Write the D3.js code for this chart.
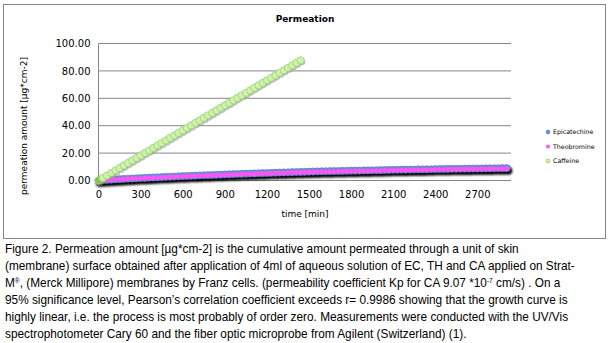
<!DOCTYPE html>
<html>
<head>
<meta charset="utf-8">
<script src="https://cdn.jsdelivr.net/npm/d3@7"></script>
<style>
body { margin: 0; background: #fff; }
svg text { font-family: "DejaVu Sans", sans-serif; }
</style>
</head>
<body>
<div id="chart"></div>
<script>
// sampling grid: every 30 min
var timesLong = d3.range(0, 2911, 30);
var timesShort = d3.range(0, 1441, 30);

var epicatechine = [0.00, 0.25, 0.45, 0.62, 0.80, 0.95, 1.12, 1.28, 1.43, 1.60,
    1.75, 1.90, 2.05, 2.18, 2.33, 2.47, 2.62, 2.75, 2.90, 3.02,
    3.15, 3.30, 3.42, 3.55, 3.66, 3.80, 3.91, 4.03, 4.15, 4.27,
    4.38, 4.50, 4.61, 4.73, 4.84, 4.95, 5.06, 5.17, 5.28, 5.38,
    5.49, 5.58, 5.68, 5.78, 5.87, 5.97, 6.06, 6.15, 6.24, 6.33,
    6.42, 6.55, 6.62, 6.69, 6.75, 6.82, 6.89, 6.95, 7.02, 7.08,
    7.14, 7.20, 7.26, 7.32, 7.38, 7.43, 7.49, 7.54, 7.68, 7.73,
    7.78, 7.83, 7.88, 7.92, 7.97, 8.02, 8.06, 8.11, 8.15, 8.20,
    8.33, 8.37, 8.41, 8.45, 8.49, 8.53, 8.57, 8.61, 8.65, 8.69,
    8.73, 8.77, 8.81, 8.85, 8.89, 8.93, 8.97, 9.02];
var theobromine = [0.00, 0.20, 0.38, 0.55, 0.70, 0.86, 1.00, 1.15, 1.30, 1.44,
    1.58, 1.72, 1.85, 1.99, 2.12, 2.25, 2.38, 2.52, 2.64, 2.77,
    2.89, 3.02, 3.14, 3.26, 3.38, 3.50, 3.61, 3.73, 3.84, 3.95,
    4.06, 4.17, 4.28, 4.39, 4.50, 4.60, 4.71, 4.81, 4.91, 5.01,
    5.11, 5.20, 5.30, 5.39, 5.48, 5.58, 5.67, 5.75, 5.84, 5.93,
    6.01, 6.16, 6.23, 6.30, 6.37, 6.44, 6.50, 6.57, 6.63, 6.69,
    6.75, 6.81, 6.87, 6.93, 6.98, 7.04, 7.09, 7.14, 7.30, 7.35,
    7.40, 7.45, 7.49, 7.54, 7.58, 7.63, 7.67, 7.72, 7.76, 7.80,
    7.95, 7.99, 8.03, 8.07, 8.11, 8.15, 8.19, 8.23, 8.27, 8.31,
    8.35, 8.39, 8.43, 8.47, 8.51, 8.55, 8.59, 8.63];
var caffeine = [0.00, 1.85, 3.62, 5.50, 7.31, 9.14, 10.98, 12.80, 14.66, 16.45,
    18.30, 20.12, 21.95, 23.78, 25.62, 27.40, 29.25, 31.10, 32.88, 34.72,
    36.55, 38.38, 40.20, 42.05, 43.86, 45.70, 47.52, 49.35, 51.18, 53.00,
    54.84, 56.66, 58.50, 60.32, 62.15, 63.98, 65.80, 67.62, 69.45, 71.28,
    73.10, 74.95, 76.76, 78.60, 80.42, 82.25, 84.08, 85.90, 87.72];

var xTicks = [0, 300, 600, 900, 1200, 1500, 1800, 2100, 2400, 2700];
var yTicks = [0, 20, 40, 60, 80, 100];
var seriesNames = ["Epicatechine", "Theobromine", "Caffeine"];

var caption = [
    ["Figure 2. Permeation amount [\u00b5g*cm-2] is the cumulative amount permeated through a unit of skin"],
    ["(membrane) surface obtained after application of 4ml of aqueous solution of EC, TH and CA applied on Strat-"],
    ["M", {sup: "\u00ae"}, ", (Merck Millipore) membranes by Franz cells.  (permeability coefficient Kp for CA  9.07 *10", {sup: "-7"}, " cm/s) . On a"],
    ["95% significance level, Pearson\u2019s correlation coefficient exceeds r= 0.9986 showing that the growth curve is"],
    ["highly linear, i.e. the process is most probably of order zero. Measurements were conducted with the UV/Vis"],
    ["spectrophotometer Cary 60 and the fiber optic microprobe from Agilent (Switzerland) (1)."]
];

var W = 609, H = 343;
var svg = d3.select("#chart").append("svg")
    .attr("width", W)
    .attr("height", H);

var defs = svg.append("defs");
defs.append("filter").attr("id", "blur1")
    .append("feGaussianBlur").attr("stdDeviation", 0.8);
defs.append("filter").attr("id", "blur2")
    .append("feGaussianBlur").attr("stdDeviation", 0.6);

// chart frame
svg.append("rect")
    .attr("x", 3.5).attr("y", 4.5)
    .attr("width", 602).attr("height", 234)
    .attr("fill", "#fff")
    .attr("stroke", "#868686");

var x = d3.scaleLinear().domain([0, 2940]).range([98.5, 511]);
var y = d3.scaleLinear().domain([0, 100]).range([180.5, 43.5]);

// gridlines
svg.append("g")
    .selectAll("line")
    .data(yTicks)
    .enter()
    .append("line")
    .attr("x1", x(0)).attr("x2", x(2940))
    .attr("y1", d => y(d)).attr("y2", d => y(d))
    .attr("stroke", "#868686");

svg.append("line")
    .attr("x1", x(0)).attr("x2", x(0))
    .attr("y1", y(0)).attr("y2", y(100))
    .attr("stroke", "#868686");

// axes (labels only)
var yAxis = svg.append("g")
    .attr("transform", "translate(" + x(0) + ",0)")
    .call(d3.axisLeft(y).tickValues(yTicks).tickSize(0).tickPadding(8).tickFormat(d3.format(".2f")));
var xAxis = svg.append("g")
    .attr("transform", "translate(0," + y(0) + ")")
    .call(d3.axisBottom(x).tickValues(xTicks).tickSize(0).tickPadding(10).tickFormat(d3.format("d")));
[yAxis, xAxis].forEach(function (a) {
    a.select(".domain").remove();
    a.selectAll("text")
        .attr("font-family", "DejaVu Sans, sans-serif")
        .attr("font-size", 10)
        .attr("fill", "#000");
});

// titles
svg.append("text")
    .attr("x", 305).attr("y", 22)
    .attr("text-anchor", "middle")
    .attr("font-size", 9).attr("font-weight", "bold")
    .text("Permeation");
svg.append("text")
    .attr("x", 305).attr("y", 217)
    .attr("text-anchor", "middle")
    .attr("font-size", 9)
    .text("time [min]");
svg.append("text")
    .attr("transform", "translate(27,126) rotate(-90)")
    .attr("text-anchor", "middle")
    .attr("font-size", 9)
    .text("permeation amount [\u00b5g*cm-2]");

var plot = svg.append("g");

var epiData = timesLong.map((t, i) => ({ t: t, v: epicatechine[i] }));
var theoData = timesLong.map((t, i) => ({ t: t, v: theobromine[i] }));
var cafData = timesShort.map((t, i) => ({ t: t, v: caffeine[i] }));

// epicatechine: black shadow, then blue markers
plot.append("g").attr("filter", "url(#blur1)")
    .selectAll("circle")
    .data(epiData)
    .enter()
    .append("circle")
    .attr("cx", d => x(d.t) + 1.5)
    .attr("cy", d => y(d.v) + 2.5)
    .attr("r", 4)
    .attr("fill", "#000");

plot.append("g")
    .selectAll("circle")
    .data(epiData)
    .enter()
    .append("circle")
    .attr("cx", d => x(d.t))
    .attr("cy", d => y(d.v))
    .attr("r", 3.6)
    .attr("fill", "#6f8fdc")
    .attr("stroke", "#5a78c4")
    .attr("stroke-width", 0.6);

plot.append("g")
    .selectAll("circle")
    .data(theoData)
    .enter()
    .append("circle")
    .attr("cx", d => x(d.t))
    .attr("cy", d => y(d.v))
    .attr("r", 2.4)
    .attr("fill", "#ff55f5");

// caffeine: soft shadow + light green markers
plot.append("g").attr("filter", "url(#blur2)")
    .selectAll("circle")
    .data(cafData)
    .enter()
    .append("circle")
    .attr("cx", d => x(d.t) + 1)
    .attr("cy", d => y(d.v) + 1.5)
    .attr("r", 3.8)
    .attr("fill", "#999")
    .attr("opacity", 0.6);

plot.append("g")
    .selectAll("circle")
    .data(cafData)
    .enter()
    .append("circle")
    .attr("cx", d => x(d.t))
    .attr("cy", d => y(d.v))
    .attr("r", 3.6)
    .attr("fill", (d, i) => i === 0 ? "#8cc152" : "#cdf3ae")
    .attr("stroke", "#9ed070")
    .attr("stroke-width", 0.8);

// legend
var legend = svg.append("g").attr("transform", "translate(548,132)");
var legendFill = ["#6f8fdc", "#ff55f5", "#cdf3ae"];
var legendStroke = ["#5a78c4", "none", "#8cc152"];
seriesNames.forEach(function (name, i) {
    var g = legend.append("g").attr("transform", "translate(0," + (i * 14.5) + ")");
    g.append("circle").attr("r", 2).attr("fill", legendFill[i])
        .attr("stroke", legendStroke[i]).attr("stroke-width", 0.6);
    g.append("text").attr("x", 5).attr("y", 2.2)
        .attr("font-size", 6.3).attr("fill", "#000")
        .text(name);
});

// caption: one common horizontal squeeze so all lines keep the same glyphs
var cap = svg.append("g");
var capLines = [];
caption.forEach(function (parts, i) {
    var t = cap.append("text")
        .attr("x", 0)
        .attr("y", 253.5 + i * 17)
        .attr("font-size", 12.5)
        .attr("fill", "#000")
        .style("font-family", "'Liberation Sans', Arial, sans-serif");
    parts.forEach(function (p) {
        if (typeof p === "string") {
            t.append("tspan").text(p);
        } else {
            t.append("tspan")
                .attr("font-size", 7)
                .attr("baseline-shift", "4")
                .text(p.sup);
        }
    });
    capLines.push(t);
});
var natural = capLines[0].node().getComputedTextLength();
var sx = 514 / natural;
cap.attr("transform", "translate(5,0) scale(" + sx + ",1)");
</script>
</body>
</html>
